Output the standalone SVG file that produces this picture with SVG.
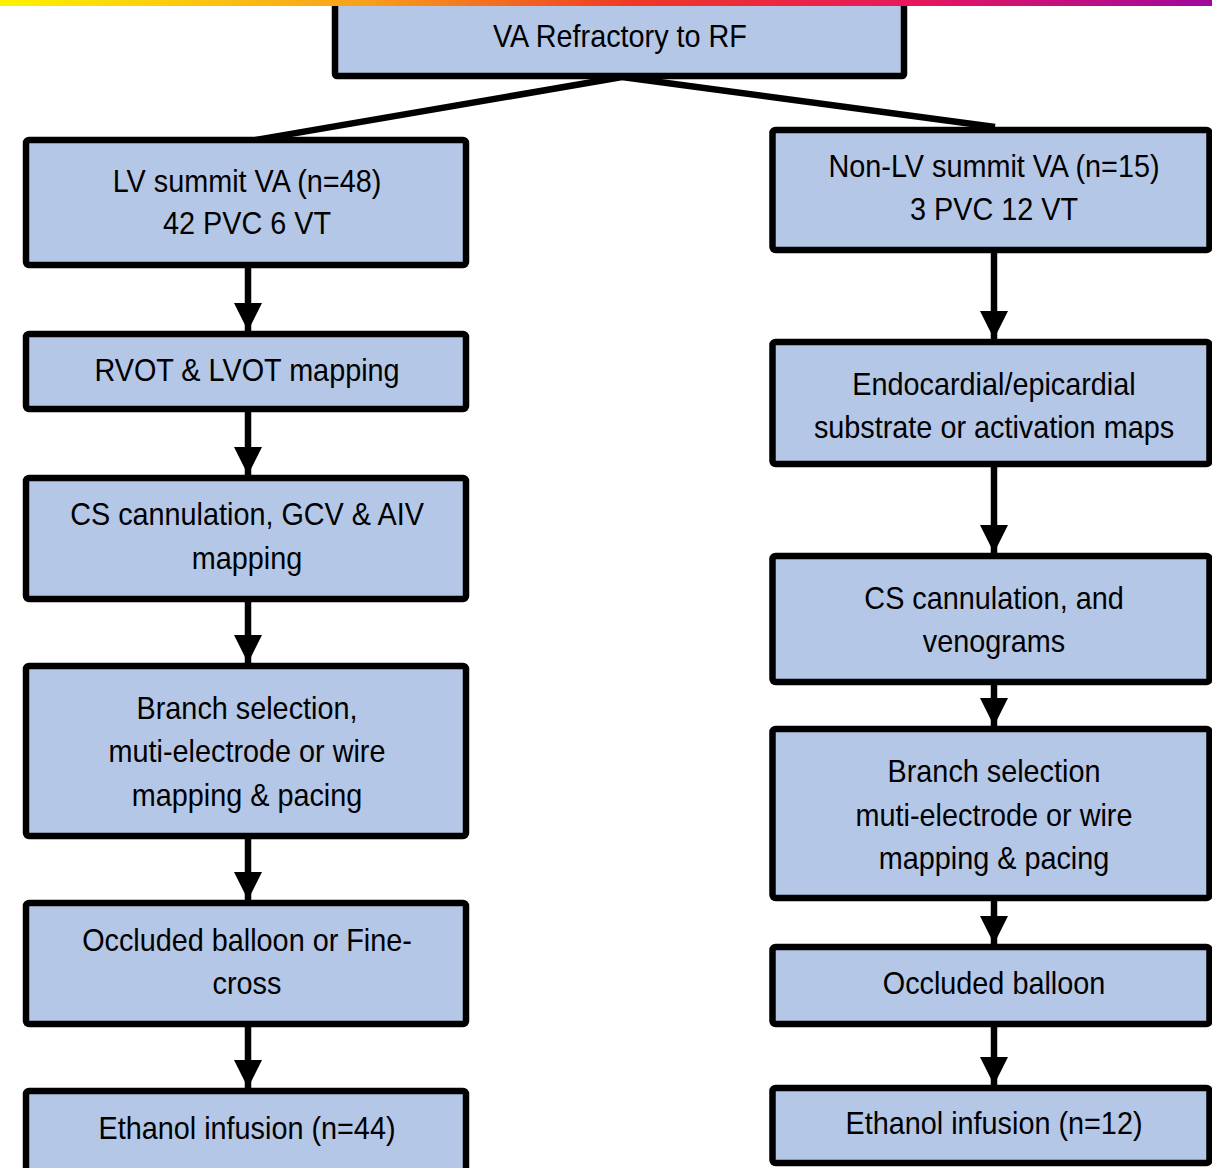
<svg xmlns="http://www.w3.org/2000/svg" width="1212" height="1168" viewBox="0 0 1212 1168">
<defs>
<linearGradient id="bar" x1="0" y1="0" x2="1" y2="0">
<stop offset="0" stop-color="#FFF200"/>
<stop offset="0.3" stop-color="#F8A01C"/>
<stop offset="0.52" stop-color="#EE3A24"/>
<stop offset="0.75" stop-color="#E8175D"/>
<stop offset="1" stop-color="#A0089E"/>
</linearGradient>
<marker id="ah" viewBox="0 0 28 28" refX="28" refY="14" markerWidth="28" markerHeight="28" markerUnits="userSpaceOnUse" orient="auto">
<path d="M0,0 L28,14 L0,28 Z" fill="#000"/>
</marker>
</defs>
<style>
.box{fill:#B4C7E7;stroke:#000;stroke-width:6.5;}
.t{font-family:"Liberation Sans",Arial,sans-serif;font-size:32px;fill:#000;text-anchor:middle;}
.c{stroke:#000;stroke-width:6.5;fill:none;}
</style>
<rect width="1212" height="1168" fill="#fff"/>

<g id="connectors">
<line class="c" x1="622" y1="77" x2="250" y2="141"/>
<line class="c" x1="622" y1="77" x2="995" y2="127"/>
<line class="c" x1="248" y1="265" x2="248" y2="331" marker-end="url(#ah)"/>
<line class="c" x1="248" y1="409" x2="248" y2="475" marker-end="url(#ah)"/>
<line class="c" x1="248" y1="599" x2="248" y2="663" marker-end="url(#ah)"/>
<line class="c" x1="248" y1="836" x2="248" y2="900" marker-end="url(#ah)"/>
<line class="c" x1="248" y1="1024" x2="248" y2="1088" marker-end="url(#ah)"/>
<line class="c" x1="994" y1="250" x2="994" y2="339" marker-end="url(#ah)"/>
<line class="c" x1="994" y1="464" x2="994" y2="553" marker-end="url(#ah)"/>
<line class="c" x1="994" y1="682" x2="994" y2="726" marker-end="url(#ah)"/>
<line class="c" x1="994" y1="898" x2="994" y2="944" marker-end="url(#ah)"/>
<line class="c" x1="994" y1="1024" x2="994" y2="1085" marker-end="url(#ah)"/>
</g>

<g id="n-top">
<rect class="box" x="335" y="2" width="569" height="74" rx="2"/>
<text class="t" transform="translate(620,47) scale(0.9,1)">VA Refractory to RF</text>
</g>

<g id="n-lv1">
<rect class="box" x="26" y="140" width="440" height="125" rx="3"/>
<text class="t" transform="translate(247,192) scale(0.9,1)">LV summit VA (n=48)</text>
<text class="t" transform="translate(247,234) scale(0.9,1)">42 PVC 6 VT</text>
</g>
<g id="n-lv2">
<rect class="box" x="26" y="334" width="440" height="75" rx="3"/>
<text class="t" transform="translate(247,381) scale(0.9,1)">RVOT &amp; LVOT mapping</text>
</g>
<g id="n-lv3">
<rect class="box" x="26" y="478" width="440" height="121" rx="3"/>
<text class="t" transform="translate(247,525) scale(0.9,1)">CS cannulation, GCV &amp; AIV</text>
<text class="t" transform="translate(247,569) scale(0.9,1)">mapping</text>
</g>
<g id="n-lv4">
<rect class="box" x="26" y="666" width="440" height="170" rx="3"/>
<text class="t" transform="translate(247,719) scale(0.9,1)">Branch selection,</text>
<text class="t" transform="translate(247,762) scale(0.9,1)">muti-electrode or wire</text>
<text class="t" transform="translate(247,806) scale(0.9,1)">mapping &amp; pacing</text>
</g>
<g id="n-lv5">
<rect class="box" x="26" y="903" width="440" height="121" rx="3"/>
<text class="t" transform="translate(247,951) scale(0.9,1)">Occluded balloon or Fine-</text>
<text class="t" transform="translate(247,994) scale(0.9,1)">cross</text>
</g>
<g id="n-lv6">
<rect class="box" x="26" y="1091" width="440" height="90" rx="3"/>
<text class="t" transform="translate(247,1139) scale(0.9,1)">Ethanol infusion (n=44)</text>
</g>

<g id="n-r1">
<rect class="box" x="772.5" y="130" width="437" height="120" rx="3"/>
<text class="t" transform="translate(994,177) scale(0.9,1)">Non-LV summit VA (n=15)</text>
<text class="t" transform="translate(994,220) scale(0.9,1)">3 PVC 12 VT</text>
</g>
<g id="n-r2">
<rect class="box" x="772.5" y="342" width="437" height="122" rx="3"/>
<text class="t" transform="translate(994,395) scale(0.9,1)">Endocardial/epicardial</text>
<text class="t" transform="translate(994,438) scale(0.9,1)">substrate or activation maps</text>
</g>
<g id="n-r3">
<rect class="box" x="772.5" y="556" width="437" height="126" rx="3"/>
<text class="t" transform="translate(994,609) scale(0.9,1)">CS cannulation, and</text>
<text class="t" transform="translate(994,652) scale(0.9,1)">venograms</text>
</g>
<g id="n-r4">
<rect class="box" x="772.5" y="729" width="437" height="169" rx="3"/>
<text class="t" transform="translate(994,782) scale(0.9,1)">Branch selection</text>
<text class="t" transform="translate(994,826) scale(0.9,1)">muti-electrode or wire</text>
<text class="t" transform="translate(994,869) scale(0.9,1)">mapping &amp; pacing</text>
</g>
<g id="n-r5">
<rect class="box" x="772.5" y="947" width="437" height="77" rx="3"/>
<text class="t" transform="translate(994,994) scale(0.9,1)">Occluded balloon</text>
</g>
<g id="n-r6">
<rect class="box" x="772.5" y="1088" width="437" height="75" rx="3"/>
<text class="t" transform="translate(994,1134) scale(0.9,1)">Ethanol infusion (n=12)</text>
</g>

<rect x="0" y="0" width="1212" height="6" fill="url(#bar)"/>
</svg>
